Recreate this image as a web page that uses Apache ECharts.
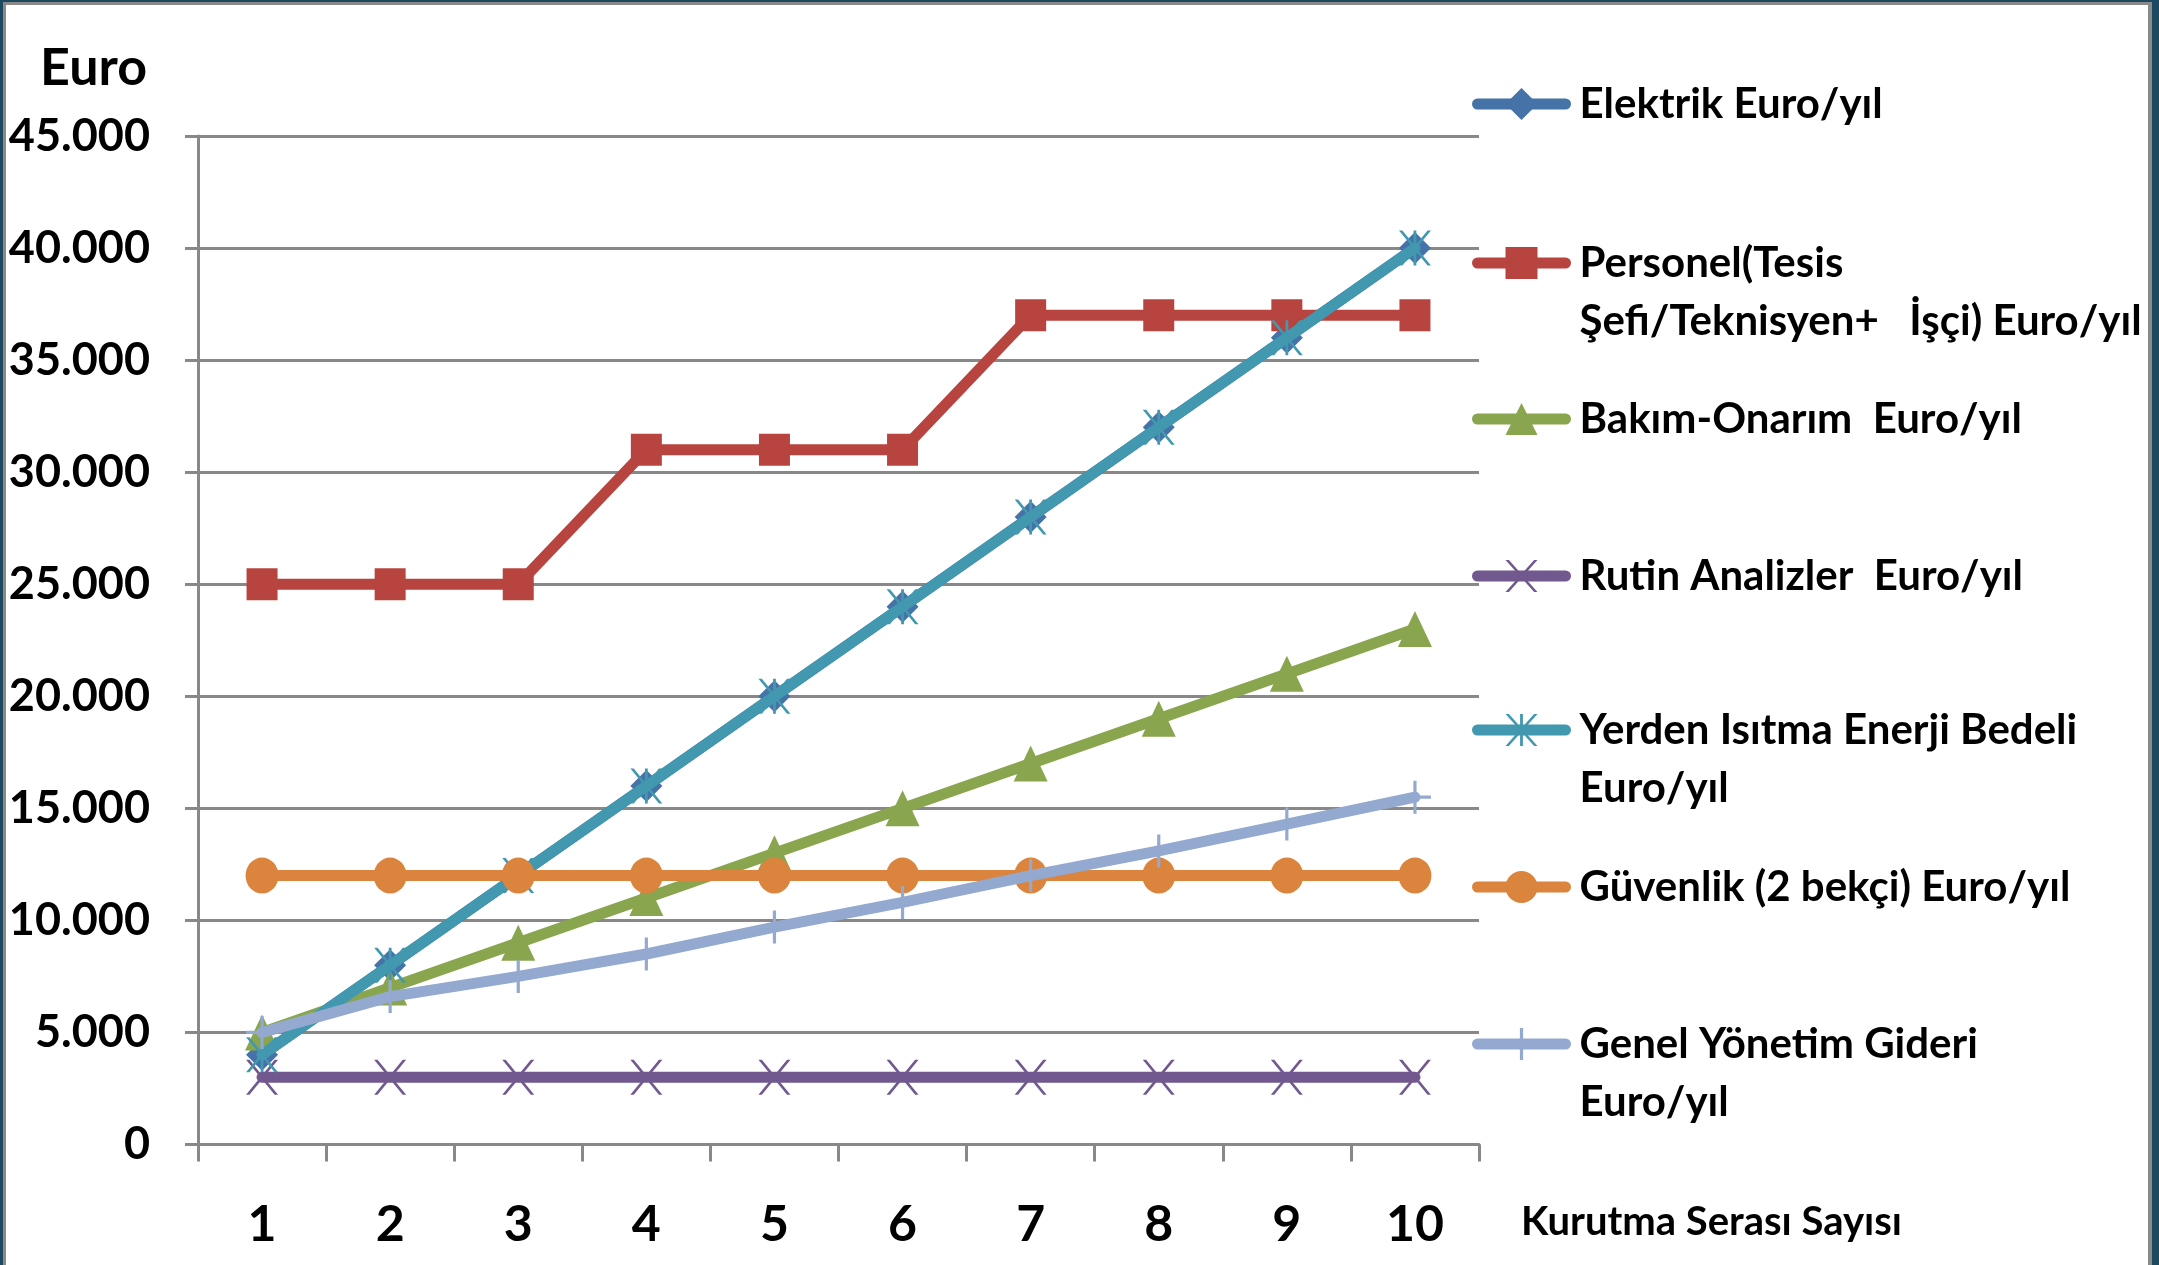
<!DOCTYPE html>
<html>
<head>
<meta charset="utf-8">
<title>Kurutma Serası İşletme Giderleri</title>
<script src="https://cdn.jsdelivr.net/npm/echarts@6/dist/echarts.min.js"></script>
<style>
  html, body { margin: 0; padding: 0; background: #ffffff; }
  #wrap { position: relative; width: 2159px; height: 1265px; overflow: hidden; }
  #chart { position: absolute; left: 0; top: 0; width: 2159px; height: 1265px; }
  #frameOuter {
    position: absolute; left: 0; top: 0; width: 2159px; height: 1265px;
    box-sizing: border-box; border-style: solid; border-color: #1c4860;
    border-width: 2px 7px 0 3px; pointer-events: none;
  }
  #frameInner {
    position: absolute; left: 3px; top: 2px; width: 2149px; height: 1263px;
    box-sizing: border-box; border-style: solid; border-color: #8a8a8a;
    border-width: 3px 4px 0 3px; pointer-events: none;
  }
</style>
</head>
<body>
<div id="wrap">
  <div id="chart"></div>
  <div id="frameOuter"></div>
  <div id="frameInner"></div>
</div>
<script>
// Number of drying greenhouses (x categories)
const categories = ['1', '2', '3', '4', '5', '6', '7', '8', '9', '10'];
// Y tick labels, one per 5.000 step
const yTickLabels = ['0', '5.000', '10.000', '15.000', '20.000', '25.000', '30.000', '35.000', '40.000', '45.000'];

// Yearly costs in Euro
const elektrik  = [4000, 8000, 12000, 16000, 20000, 24000, 28000, 32000, 36000, 40000];
const personel  = [25000, 25000, 25000, 31000, 31000, 31000, 37000, 37000, 37000, 37000];
const bakim     = [5000, 7000, 9000, 11000, 13000, 15000, 17000, 19000, 21000, 23000];
const rutin     = [3000, 3000, 3000, 3000, 3000, 3000, 3000, 3000, 3000, 3000];
const yerden    = [4000, 8000, 12000, 16000, 20000, 24000, 28000, 32000, 36000, 40000];
const guvenlik  = [12000, 12000, 12000, 12000, 12000, 12000, 12000, 12000, 12000, 12000];
const genel     = [5000, 6600, 7500, 8500, 9700, 10800, 12000, 13100, 14300, 15500];

const seriesNames = [
  'Elektrik Euro/yıl',
  'Personel(Tesis Şefi/Teknisyen+   İşçi) Euro/yıl',
  'Bakım-Onarım  Euro/yıl',
  'Rutin Analizler  Euro/yıl',
  'Yerden Isıtma Enerji Bedeli Euro/yıl',
  'Güvenlik (2 bekçi) Euro/yıl',
  'Genel Yönetim Gideri Euro/yıl'
];
// Legend text lines as they wrap on the right side
const legendLines = [
  ['Elektrik Euro/yıl'],
  ['Personel(Tesis', 'Şefi/Teknisyen+   İşçi) Euro/yıl'],
  ['Bakım-Onarım  Euro/yıl'],
  ['Rutin Analizler  Euro/yıl'],
  ['Yerden Isıtma Enerji Bedeli', 'Euro/yıl'],
  ['Güvenlik (2 bekçi) Euro/yıl'],
  ['Genel Yönetim Gideri', 'Euro/yıl']
];
const xAxisTitle = 'Kurutma Serası Sayısı';
const yAxisTitle = 'Euro';

const LABEL_FONT = "Lato, 'Open Sans', sans-serif";

// Marker shapes drawn as filled outlines
const SYM_X    = 'path://M0,0L3.4,0L32,35L28.6,35Z M28.6,0L32,0L3.4,35L0,35Z';
const SYM_STAR = 'path://M0,0L3.4,0L32,35L28.6,35Z M28.6,0L32,0L3.4,35L0,35Z M14.6,0L17.4,0L17.4,35L14.6,35Z';
const SYM_PLUS = 'path://M14.4,0L17.6,0L17.6,33L14.4,33Z M0,14.9L32,14.9L32,18.1L0,18.1Z';

const styles = [
  { data: elektrik, color: '#4572A7', symbol: 'diamond',  size: 32 },
  { data: personel, color: '#B8443F', symbol: 'rect',     size: [31, 32] },
  { data: bakim,    color: '#89A54E', symbol: 'triangle', size: [34, 36] },
  { data: rutin,    color: '#71588F', symbol: SYM_X,      size: [32, 35] },
  { data: yerden,   color: '#4198AF', symbol: SYM_STAR,   size: [32, 35] },
  { data: guvenlik, color: '#DB843D', symbol: 'circle',   size: [33, 36] },
  { data: genel,    color: '#93A9CF', symbol: SYM_PLUS,   size: [32, 33] }
];

const series = styles.map((s, i) => ({
  name: seriesNames[i],
  type: 'line',
  data: s.data,
  z: 2 + i,
  symbol: s.symbol,
  symbolSize: s.size,
  showSymbol: true,
  showAllSymbol: true,
  lineStyle: { width: 11, color: s.color, cap: 'round', join: 'round' },
  itemStyle: { color: s.color },
  emphasis: { disabled: true },
  animation: false
}));

// Vertical centres of the legend entries (symbol line)
const legendCenters = [104, 263, 419, 576, 730, 887, 1044];
const LEGEND_FS = 42;
const LEGEND_LH = 58;

const legends = seriesNames.map((name, i) => {
  const lines = legendLines[i];
  // A leading blank line keeps the symbol level with the first text line
  const text = lines.length > 1 ? ' \n' + lines.join('\n') : lines[0];
  const extra = lines.length > 1 ? LEGEND_LH : 0;
  return {
    data: [name],
    orient: 'vertical',
    left: 1472,
    top: legendCenters[i] - LEGEND_LH / 2 - extra,
    padding: 0,
    itemWidth: 88,
    itemHeight: 40,
    selectedMode: false,
    lineStyle: { width: 11, cap: 'round' },
    formatter: () => text,
    textStyle: {
      fontFamily: LABEL_FONT, fontWeight: 'bold', fontSize: LEGEND_FS,
      color: '#000', lineHeight: LEGEND_LH, padding: [0, 0, 0, 9]
    }
  };
});

const chart = echarts.init(document.getElementById('chart'), null, { renderer: 'canvas' });
chart.setOption({
  backgroundColor: '#ffffff',
  animation: false,
  grid: {
    left: 198, right: 680, top: 136, bottom: 120.5,
    containLabel: false, outerBoundsMode: 'none'
  },
  legend: legends,
  xAxis: {
    type: 'category',
    data: categories,
    boundaryGap: true,
    axisLine: { show: true, lineStyle: { color: '#888888', width: 3 } },
    axisTick: { show: true, length: 17, alignWithLabel: false, lineStyle: { color: '#888888', width: 3 } },
    axisLabel: {
      interval: 0, margin: 55, color: '#000',
      fontFamily: LABEL_FONT, fontWeight: 'bold', fontSize: 50, lineHeight: 50
    },
    splitLine: { show: false }
  },
  yAxis: {
    type: 'value',
    min: 0,
    max: 45000,
    interval: 5000,
    axisLine: { show: true, lineStyle: { color: '#888888', width: 3 } },
    axisTick: { show: true, length: 13, lineStyle: { color: '#888888', width: 3 } },
    splitLine: { show: true, lineStyle: { color: '#888888', width: 3 } },
    axisLabel: {
      margin: 48, color: '#000',
      fontFamily: LABEL_FONT, fontWeight: 'bold', fontSize: 45,
      formatter: (v) => yTickLabels[Math.round(v / 5000)]
    },
    name: yAxisTitle,
    nameLocation: 'end',
    nameGap: 42,
    nameTextStyle: {
      fontFamily: LABEL_FONT, fontWeight: 'bold', fontSize: 52, color: '#000',
      lineHeight: 52, align: 'right', padding: [0, 51, 0, 0]
    }
  },
  // x axis title sits to the right of the category labels
  graphic: [{
    type: 'text',
    left: 1521,
    top: 1222 - 21,
    style: {
      text: xAxisTitle,
      fontFamily: LABEL_FONT, fontWeight: 'bold', fontSize: 40,
      lineHeight: 42, fill: '#000'
    }
  }],
  series: series
});
</script>
</body>
</html>
